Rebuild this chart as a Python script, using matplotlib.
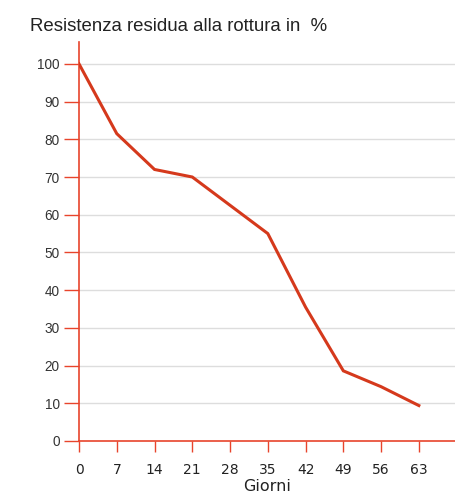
import matplotlib.pyplot as plt

# Dati
giorni = [0, 7, 14, 21, 28, 35, 42, 49, 56, 63]
resistenza = [100, 81.5, 72, 70, 62.5, 55, 35.5, 18.6, 14.4, 9.4]
y_ticks = [0, 10, 20, 30, 40, 50, 60, 70, 80, 90, 100]

rosso_linea = '#d5391c'
rosso_assi = '#e8442c'

fig = plt.figure(figsize=(4.55, 4.95), dpi=100)
ax = fig.add_axes([79 / 455, 1 - 441 / 495, 1 - 79 / 455, (441 - 42) / 495])

ax.plot(giorni, resistenza, color=rosso_linea, linewidth=2.2, solid_joinstyle='miter', zorder=3)

ax.set_xlim(0, 69.7)
ax.set_ylim(0, 105.8)
ax.set_xticks(giorni)
ax.set_yticks(y_ticks)
ax.set_xticklabels([str(g) for g in giorni], fontsize=10, color='#222222', family='DejaVu Sans')
ax.set_yticklabels([str(v) for v in y_ticks], fontsize=9.8, color='#333333', family='Liberation Sans')

for v in y_ticks[1:]:
    ax.axhline(v, color='#dddddd', linewidth=1, zorder=1)

for s in ['top', 'right']:
    ax.spines[s].set_visible(False)
for s in ['left', 'bottom']:
    ax.spines[s].set_color(rosso_assi)
    ax.spines[s].set_linewidth(1.2)
ax.tick_params(axis='x', direction='out', length=8, width=1, color=rosso_assi, pad=8)
ax.tick_params(axis='y', direction='out', length=11, width=1, color=rosso_assi, pad=3)

ax.set_xlabel('Giorni', fontsize=11.5, color='#222222', family='DejaVu Sans', labelpad=1)

fig.text(30 / 455, 1 - 31 / 495, 'Resistenza residua alla rottura in  %', fontsize=13.4,
         color='#222222', family='Liberation Sans', ha='left', va='baseline')

fig.savefig('out.png', dpi=100)
